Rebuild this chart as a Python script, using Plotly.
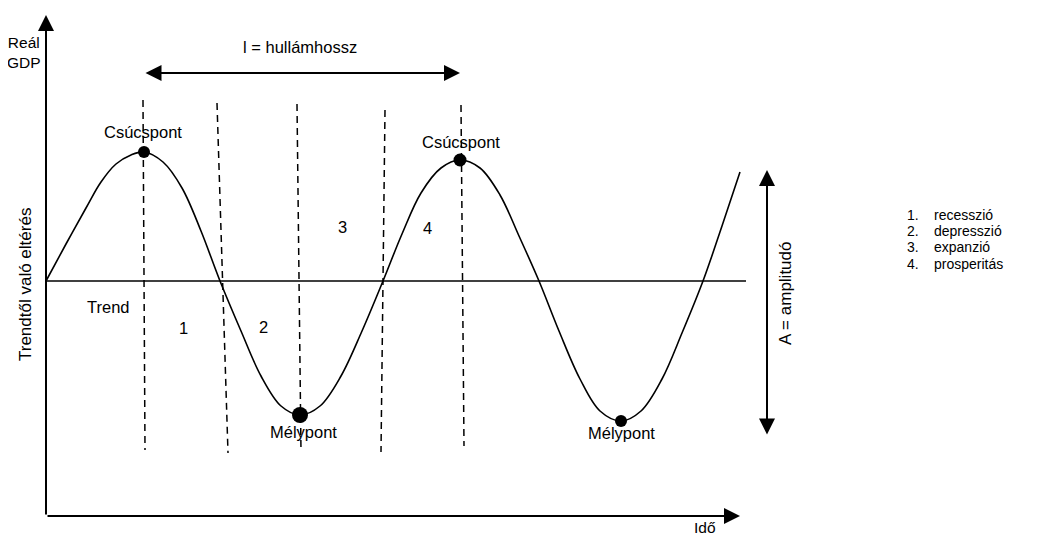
import plotly.graph_objects as go

# coordinates: time from the origin, deviation from the trend line
cycle_t = [0, 20, 40, 55, 70, 85, 98, 117, 136, 155, 174, 195, 215, 235, 254,
           274, 295, 316, 337, 356, 375, 395, 414, 434, 454, 473, 493,
           513, 534, 554, 575, 595, 616, 636, 657, 676, 694]
cycle_d = [0, 37, 73, 99, 117, 126, 129, 119, 93, 50, 0, -50, -95, -125, -134,
           -125, -95, -50, 0, 47, 88, 113, 121, 113, 86, 45, 0,
           -50, -98, -130, -140, -130, -98, -52, 0, 55, 109]

peak_t = [98, 414]
peak_d = [129, 121]
trough_t = [254, 575]
trough_d = [-134, -140]

phase_top_t = [97, 171, 251, 339, 415]
phase_top_d = [181, 178, 177, 171, 176]
phase_bot_t = [99, 182, 255, 335, 418]
phase_bot_d = [-169, -172, -171, -171, -165]

phase_nums = ["1", "2", "3", "4"]
phase_num_t = [137, 217, 296, 381]
phase_num_d = [-47, -46, 54, 53]

legend_nums = ["1.", "2.", "3.", "4."]
legend_names = ["recesszió", "depresszió", "expanzió", "prosperitás"]
legend_d = [66, 50, 34, 17]

FONT = "Liberation Sans, Arial, sans-serif"

fig = go.Figure()

# trend line
fig.add_trace(go.Scatter(x=[0, 700], y=[0, 0], mode="lines",
                         line=dict(color="black", width=1.5)))

# phase boundaries
px, py = [], []
for t0, d0, t1, d1 in zip(phase_top_t, phase_top_d, phase_bot_t, phase_bot_d):
    px += [t0, t1, None]
    py += [d0, d1, None]
fig.add_trace(go.Scatter(x=px, y=py, mode="lines",
                         line=dict(color="black", width=1.5, dash="7px,5px")))

# the cycle
fig.add_trace(go.Scatter(x=cycle_t, y=cycle_d, mode="lines",
                         line=dict(color="black", width=1.6, shape="spline", smoothing=1)))

fig.add_trace(go.Scatter(x=peak_t, y=peak_d, mode="markers", opacity=1,
                         marker=dict(color="black", size=[12, 13], opacity=1,
                                     line=dict(width=0))))
fig.add_trace(go.Scatter(x=trough_t, y=trough_d, mode="markers", opacity=1,
                         marker=dict(color="black", size=[16, 12], opacity=1,
                                     line=dict(width=0))))


def arrow(x0, y0, x1, y1, both=False):
    fig.add_annotation(x=x1, y=y1, ax=x0, ay=y0, xref="x", yref="y",
                       axref="x", ayref="y", text="", showarrow=True,
                       arrowhead=2, arrowsize=1.6, arrowwidth=2,
                       arrowcolor="black",
                       arrowside="end+start" if both else "end")


arrow(0, -235, 0, 266)          # y axis
arrow(0, -235, 694, -235)       # x axis
arrow(98, 208, 414, 208, True)  # wavelength
arrow(721, -155, 721, 111, True)  # amplitude


def label(t, d, s, size=16.5, angle=0, anchor="center"):
    fig.add_annotation(x=t, y=d, text=s, showarrow=False, textangle=angle,
                       xanchor=anchor, yanchor="middle",
                       font=dict(family=FONT, size=size, color="black"))


label(-22, 229, "Reál<br>GDP", size=15.5)
label(-21, -4, "Trendtől való eltérés", size=17, angle=-90)
label(659, -246, "Idő", size=15.5)
label(254, 234, "l = hullámhossz")
label(739, -12, "A = amplitudó", size=17, angle=-90)
label(62, -26, "Trend")
label(97, 149, "Csúcspont")
label(415, 139, "Csúcspont")
label(257, -151, "Mélypont")
label(575, -152, "Mélypont")
for s, t, d in zip(phase_nums, phase_num_t, phase_num_d):
    label(t, d, s)
for n, s, d in zip(legend_nums, legend_names, legend_d):
    label(859, d, n, size=14, anchor="left")
    label(886, d, s, size=14, anchor="left")

fig.update_layout(
    width=1061, height=536,
    margin=dict(l=0, r=0, t=0, b=0),
    plot_bgcolor="white", paper_bgcolor="white",
    showlegend=False,
)
# ranges shifted by the page's 8px body margin
fig.update_xaxes(range=[-38, 1023], visible=False)
fig.update_yaxes(range=[-263, 273], visible=False)

fig.write_html("out.html")
